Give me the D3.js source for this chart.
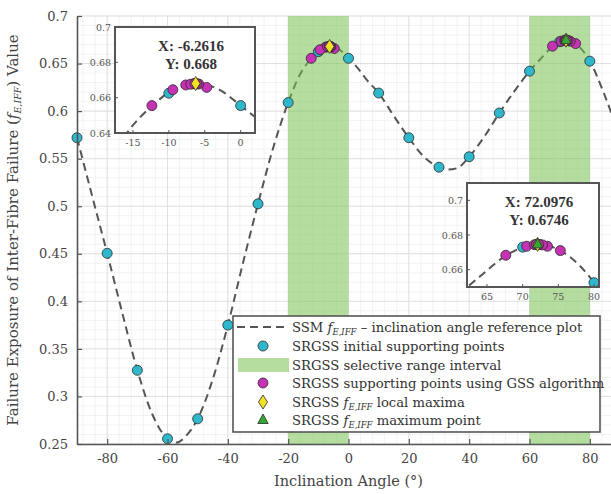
<!DOCTYPE html>
<html><head><meta charset="utf-8">
<script src="https://cdn.jsdelivr.net/npm/d3@7"></script>
<style>
html,body{margin:0;padding:0;background:#fff;}
svg{display:block;font-family:"DejaVu Serif","Liberation Serif",serif;}
</style></head>
<body>
<script>
// ---------------- data ----------------
const curveX = [-90,-85,-80,-75,-70,-65,-60,-57,-54,-50,-45,-40,-35,-30,-25,-20,-16,-12,-9,-6.26,-3,0,3,6,10,15,20,25,30,33,36,40,45,50,55,60,64,68,72.1,76,80,85,90];
const curveY = [0.572,0.511,0.4505,0.388,0.3275,0.281,0.2555,0.2515,0.258,0.2765,0.318,0.375,0.44,0.5025,0.561,0.609,0.639,0.6565,0.6655,0.668,0.6646,0.6555,0.6455,0.633,0.619,0.595,0.572,0.552,0.541,0.5385,0.540,0.552,0.573,0.598,0.621,0.642,0.656,0.669,0.6746,0.6692,0.6525,0.616,0.572];
const initX = [-90,-80,-70,-60,-50,-40,-30,-20,-10,0,10,20,30,40,50,60,70,80,90];
const initY = [0.572,0.4505,0.3275,0.2555,0.2765,0.375,0.5025,0.609,0.6625,0.6555,0.619,0.572,0.541,0.552,0.598,0.642,0.673,0.6525,0.572];
const rangeStart = [-20,60];
const rangeEnd = [0,80];
const gssX = [-12.36,-7.64,-4.72,-9.44,-6.52,-5.83,-6.95,-6.09,-6.36, 67.64,72.36,75.28,70.56,73.48,71.67,72.78,71.93,72.26];
const gssY = [0.6555,0.6672,0.6658,0.6645,0.6679,0.6677,0.6676,0.6679,0.6680, 0.6683,0.6745,0.671,0.6735,0.6735,0.6744,0.6743,0.6746,0.6746];
const localMaxX = [-6.2616,72.0976];
const localMaxY = [0.668,0.6746];
const globalMaxX = [72.0976];
const globalMaxY = [0.6746];
const xTicks = [-80,-60,-40,-20,0,20,40,60,80];
const yTicks = [0.25,0.3,0.35,0.4,0.45,0.5,0.55,0.6,0.65,0.7];
const yTickLabels = ["0.25","0.3","0.35","0.4","0.45","0.5","0.55","0.6","0.65","0.7"];
const inset1XTicks = [-15,-10,-5,0];
const inset1YTicks = [0.64,0.66,0.68,0.7];
const inset2XTicks = [65,70,75,80];
const inset2YTicks = [0.66,0.68,0.7];
const tipLabels1 = ["X: -6.2616","Y: 0.668"];
const tipLabels2 = ["X: 72.0976","Y: 0.6746"];

const curve = curveX.map((x,i)=>({x,y:curveY[i]}));
const init = initX.map((x,i)=>({x,y:initY[i]}));
const gss = gssX.map((x,i)=>({x,y:gssY[i]}));
const lmax = localMaxX.map((x,i)=>({x,y:localMaxY[i]}));
const gmax = globalMaxX.map((x,i)=>({x,y:globalMaxY[i]}));
const ranges = rangeStart.map((s,i)=>({s,e:rangeEnd[i]}));

const C_CYAN="#2fb8cc", C_MAG="#c532b4", C_YEL="#f2e224", C_GRN="#33a833", C_EDGE="#2a2a2a";
const AX="#555";

const W=611,H=494;
const svg=d3.select("body").append("svg").attr("width",W).attr("height",H);
const x=d3.scaleLinear().domain([-90,90]).range([77,620]);
const y=d3.scaleLinear().domain([0.25,0.7]).range([444,16]);

// grid
const g=svg.append("g");
const minorX=d3.range(-88,91,4), minorY=d3.range(0.25,0.7001,0.01);
g.selectAll(".mx").data(minorX).enter().append("line")
 .attr("x1",d=>x(d)).attr("x2",d=>x(d)).attr("y1",y(0.25)).attr("y2",y(0.7))
 .attr("stroke","#efefef").attr("stroke-width",0.8);
g.selectAll(".my").data(minorY).enter().append("line")
 .attr("x1",x(-90)).attr("x2",x(90)).attr("y1",d=>y(d)).attr("y2",d=>y(d))
 .attr("stroke","#efefef").attr("stroke-width",0.8);
g.selectAll(".Mx").data(xTicks).enter().append("line")
 .attr("x1",d=>x(d)).attr("x2",d=>x(d)).attr("y1",y(0.25)).attr("y2",y(0.7))
 .attr("stroke","#dcdcdc").attr("stroke-width",0.8);
g.selectAll(".My").data(yTicks).enter().append("line")
 .attr("x1",x(-90)).attr("x2",x(90)).attr("y1",d=>y(d)).attr("y2",d=>y(d))
 .attr("stroke","#dcdcdc").attr("stroke-width",0.8);

const lineGen=(sx,sy)=>d3.line().x(d=>sx(d.x)).y(d=>sy(d.y)).curve(d3.curveMonotoneX);

// reference curve
svg.append("path").datum(curve).attr("d",lineGen(x,y)).attr("fill","none")
 .attr("stroke","#555").attr("stroke-width",2).attr("stroke-dasharray","8,5");

// selective ranges
svg.selectAll(".rng").data(ranges).enter().append("rect")
 .attr("x",d=>x(d.s)).attr("width",d=>x(d.e)-x(d.s)).attr("y",y(0.7)).attr("height",y(0.25)-y(0.7))
 .attr("fill","#77c151").attr("fill-opacity",0.55);

function markers(sel,sx,sy,r){
  sel.selectAll(".ci").data(init).enter().append("circle")
   .attr("cx",d=>sx(d.x)).attr("cy",d=>sy(d.y)).attr("r",r)
   .attr("fill",C_CYAN).attr("stroke",C_EDGE).attr("stroke-width",0.8);
  sel.selectAll(".cg").data(gss).enter().append("circle")
   .attr("cx",d=>sx(d.x)).attr("cy",d=>sy(d.y)).attr("r",r)
   .attr("fill",C_MAG).attr("stroke",C_EDGE).attr("stroke-width",0.8);
  sel.selectAll(".cl").data(lmax).enter().append("path")
   .attr("transform",d=>`translate(${sx(d.x)},${sy(d.y)})`)
   .attr("d",`M0,${-r*1.4}L${r*0.9},0L0,${r*1.4}L${-r*0.9},0Z`)
   .attr("fill",C_YEL).attr("stroke",C_EDGE).attr("stroke-width",0.8);
  sel.selectAll(".cm").data(gmax).enter().append("path")
   .attr("transform",d=>`translate(${sx(d.x)},${sy(d.y)})`)
   .attr("d",`M0,${-r*1.2}L${r*1.05},${r*0.7}L${-r*1.05},${r*0.7}Z`)
   .attr("fill",C_GRN).attr("stroke",C_EDGE).attr("stroke-width",0.8);
}
markers(svg.append("g"),x,y,5);

// axes
const xAxis=svg.append("g").attr("transform",`translate(0,${y(0.25)})`)
 .call(d3.axisBottom(x).tickValues(xTicks).tickSizeInner(-5).tickSizeOuter(0).tickPadding(10).tickFormat(d3.format("d")));
const yAxis=svg.append("g").attr("transform",`translate(${x(-90)},0)`)
 .call(d3.axisLeft(y).tickValues(yTicks).tickSizeInner(-5).tickSizeOuter(0).tickPadding(9).tickFormat((d,i)=>yTickLabels[i]));
[xAxis,yAxis].forEach(a=>{
  a.select(".domain").attr("stroke",AX).attr("stroke-width",1.6);
  a.selectAll(".tick line").attr("stroke",AX).attr("stroke-width",1.2);
  a.selectAll("text").attr("fill","#444").attr("font-size",13).attr("font-family","DejaVu Serif, serif");
});
xAxis.selectAll("text").text(d=>d<0?"-"+Math.abs(d):d);
svg.append("text").attr("x",x(0)).attr("y",486).attr("text-anchor","middle")
 .attr("font-size",14.5).attr("fill","#444").text("Inclination Angle (°)");
const yt=svg.append("text").attr("transform",`translate(18,${(y(0.25)+y(0.7))/2}) rotate(-90)`)
 .attr("text-anchor","middle").attr("font-size",15).attr("fill","#444");
yt.append("tspan").text("Failure Exposure of Inter-Fibre Failure (");
yt.append("tspan").attr("font-style","italic").text("f");
yt.append("tspan").attr("font-style","italic").attr("font-size",9.5).attr("dy",3).text("E,IFF");
yt.append("tspan").attr("dy",-3).text(") Value");

// insets
function inset(box,xd,yd,xt,yt2,tips,tipCx){
  const sx=d3.scaleLinear().domain(xd).range([box.x0,box.x1]);
  const sy=d3.scaleLinear().domain(yd).range([box.y1,box.y0]);
  const gi=svg.append("g");
  const id="clip"+Math.round(box.x0);
  gi.append("clipPath").attr("id",id).append("rect")
   .attr("x",box.x0).attr("y",box.y0).attr("width",box.x1-box.x0).attr("height",box.y1-box.y0);
  gi.append("rect").attr("x",box.x0).attr("y",box.y0).attr("width",box.x1-box.x0).attr("height",box.y1-box.y0)
   .attr("fill","#fff");
  const inner=gi.append("g").attr("clip-path",`url(#${id})`);
  inner.append("path").datum(curve).attr("d",lineGen(sx,sy)).attr("fill","none")
   .attr("stroke","#555").attr("stroke-width",2).attr("stroke-dasharray","8,5");
  markers(inner,sx,sy,5);
  gi.append("rect").attr("x",box.x0).attr("y",box.y0).attr("width",box.x1-box.x0).attr("height",box.y1-box.y0)
   .attr("fill","none").attr("stroke",AX).attr("stroke-width",2);
  gi.selectAll(".itx").data(xt).enter().append("line")
   .attr("x1",d=>sx(d)).attr("x2",d=>sx(d)).attr("y1",box.y1).attr("y2",box.y1-3).attr("stroke",AX);
  gi.selectAll(".ity").data(yt2).enter().append("line")
   .attr("x1",box.x0).attr("x2",box.x0+3).attr("y1",d=>sy(d)).attr("y2",d=>sy(d)).attr("stroke",AX);
  gi.selectAll(".itxl").data(xt).enter().append("text")
   .attr("x",d=>sx(d)).attr("y",box.y1+13).attr("text-anchor","middle").attr("font-size",9.5).attr("fill","#555")
   .text(d=>d<0?"-"+Math.abs(d):d);
  gi.selectAll(".ityl").data(yt2).enter().append("text")
   .attr("x",box.x0-4).attr("y",d=>sy(d)+3.5).attr("text-anchor","end").attr("font-size",9.5).attr("fill","#555")
   .text(d=>String(+d.toFixed(2)));
  gi.selectAll(".tip").data(tips).enter().append("text")
   .attr("x",tipCx).attr("y",(d,i)=>box.y0+24+i*18).attr("text-anchor","middle")
   .attr("font-family","Liberation Serif, serif")
   .attr("font-size",15).attr("fill","#333").attr("font-weight","bold").text(d=>d);
}
inset({x0:115,x1:255,y0:27,y1:133},[-17.5,2],[0.64,0.7],inset1XTicks,inset1YTicks,tipLabels1,191);
inset({x0:467,x1:599,y0:183,y1:287},[62.2,80.7],[0.65,0.71],inset2XTicks,inset2YTicks,tipLabels2,539);

// legend
const lg=svg.append("g");
lg.append("rect").attr("x",233).attr("y",316).attr("width",367).attr("height",116)
 .attr("fill","#fff").attr("stroke",AX).attr("stroke-width",1.6);
const rowY=[327,346,365,383,402,420];
const sym=263, tx=292;
lg.append("line").attr("x1",237).attr("x2",289).attr("y1",rowY[0]).attr("y2",rowY[0])
 .attr("stroke","#555").attr("stroke-width",2).attr("stroke-dasharray","8,5");
lg.append("circle").attr("cx",sym).attr("cy",rowY[1]).attr("r",5).attr("fill",C_CYAN).attr("stroke",C_EDGE).attr("stroke-width",0.8);
lg.append("rect").attr("x",238).attr("y",rowY[2]-7).attr("width",51).attr("height",14).attr("fill","#77c151").attr("fill-opacity",0.55);
lg.append("circle").attr("cx",sym).attr("cy",rowY[3]).attr("r",5).attr("fill",C_MAG).attr("stroke",C_EDGE).attr("stroke-width",0.8);
lg.append("path").attr("transform",`translate(${sym},${rowY[4]})`).attr("d","M0,-7L4.5,0L0,7L-4.5,0Z")
 .attr("fill",C_YEL).attr("stroke",C_EDGE).attr("stroke-width",0.8);
lg.append("path").attr("transform",`translate(${sym},${rowY[5]})`).attr("d","M0,-6L5.2,3.5L-5.2,3.5Z")
 .attr("fill",C_GRN).attr("stroke",C_EDGE).attr("stroke-width",0.8);
const legText=[
  [["SSM ",""],["f","i"],["E,IFF","s"],[" – inclination angle reference plot",""]],
  [["SRGSS initial supporting points",""]],
  [["SRGSS selective range interval",""]],
  [["SRGSS supporting points using GSS algorithm",""]],
  [["SRGSS ",""],["f","i"],["E,IFF","s"],[" local maxima",""]],
  [["SRGSS ",""],["f","i"],["E,IFF","s"],[" maximum point",""]]
];
legText.forEach((parts,i)=>{
  const t=lg.append("text").attr("x",tx).attr("y",rowY[i]+4.5).attr("font-size",13.2).attr("fill","#333");
  let sub=false;
  parts.forEach(([s,k])=>{
    const sp=t.append("tspan").text(s);
    if(k==="i") sp.attr("font-style","italic");
    if(k==="s"){ sp.attr("font-style","italic").attr("font-size",8.5).attr("dy",3); sub=true; }
    else if(sub){ sp.attr("dy",-3); sub=false; }
  });
});
</script>
</body></html>
